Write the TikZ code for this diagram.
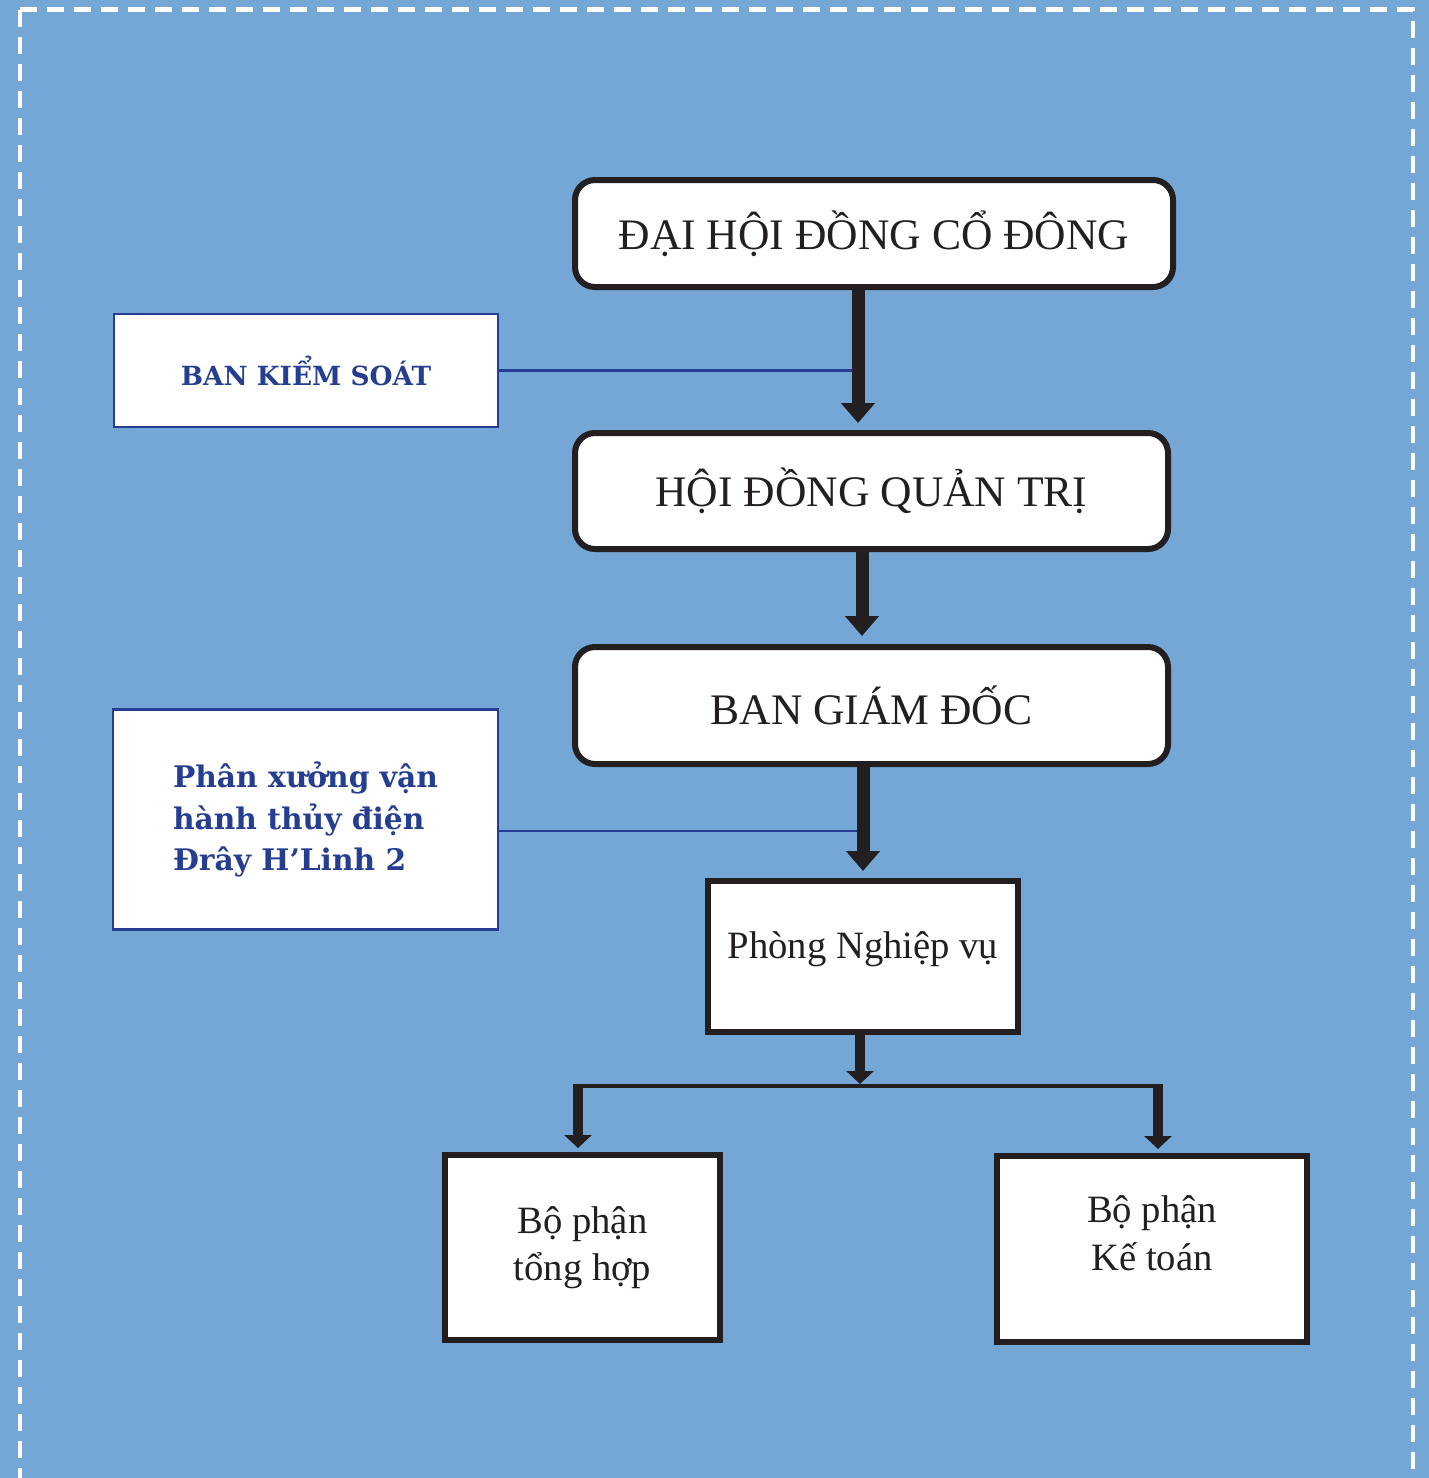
\documentclass[tikz,border=0pt]{standalone}
\usepackage{fontspec}
\setmainfont{Liberation Serif}
\newfontfamily\slabfont{DejaVu Serif}
\usetikzlibrary{arrows.meta,calc}
\definecolor{bgblue}{RGB}{116,167,214}
\definecolor{inkblack}{RGB}{35,31,32}
\definecolor{navy}{RGB}{37,62,146}

\begin{document}
\begin{tikzpicture}[board/.style={draw=inkblack, line width=0.06cm, rounded corners=0.2cm,
                    fill=white, text=inkblack, font=\fontsize{12.4}{14}\selectfont},
                    unit/.style={draw=inkblack, line width=0.06cm, fill=white, text=inkblack,
                    align=center, font=\fontsize{11}{13.4}\selectfont},
                    side/.style={draw=navy, line width=0.023cm, fill=white, text=navy,
                    font=\slabfont\bfseries\fontsize{8.45}{11.7}\selectfont},
                    flow/.style={draw=inkblack, line width=0.13cm,
                    -{Triangle[width=0.33cm,length=0.2cm]}},
                    branch/.style={draw=inkblack, line width=0.1cm,
                    -{Triangle[width=0.27cm,length=0.13cm]}},
                    bar/.style={draw=inkblack, line width=0.04cm},
                    tie/.style={draw=navy, line width=0.027cm}]
\useasboundingbox (0,0) rectangle (14.29,-14.78);
\fill[bgblue] (0,0) rectangle (14.29,-14.78);
\draw[white, line width=0.045cm, dash pattern=on 0.17cm off 0.1cm]
  (0.20,-0.095) -- (14.13,-0.095) -- (14.13,-15.2);
\draw[white, line width=0.045cm, dash pattern=on 0.17cm off 0.1cm]
  (0.20,-0.095) -- (0.20,-15.2);

\node[board, minimum width=5.98cm, minimum height=1.07cm] (dh) at (8.74,-2.335) {ĐẠI HỘI ĐỒNG CỔ ĐÔNG};
\node[board, minimum width=5.93cm, minimum height=1.16cm] (hd) at (8.715,-4.91) {HỘI ĐỒNG QUẢN TRỊ};
\node[board, minimum width=5.93cm, minimum height=1.17cm] (bgd) at (8.715,-7.055) {BAN GIÁM ĐỐC};
\node[side, minimum width=3.84cm, minimum height=1.13cm, font=\slabfont\bfseries\fontsize{7.5}{9}\selectfont]
  (bks) at (3.06,-3.705) {BAN KIỂM SOÁT};
\node[side, minimum width=3.85cm, minimum height=2.2cm, align=left] (pxv) at (3.055,-8.195)
  {Phân xưởng vận\\hành thủy điện\\Đrây H’Linh 2};
\node[unit, minimum width=3.10cm, minimum height=1.51cm, text depth=0.22cm] (pnv) at (8.63,-9.565) {Phòng Nghiệp vụ};
\node[unit, minimum width=2.75cm, minimum height=1.85cm] (bth) at (5.825,-12.475) {Bộ phận\\tổng hợp};
\node[unit, minimum width=3.10cm, minimum height=1.86cm, text depth=0.32cm] (bkt) at (11.52,-12.49) {Bộ phận\\Kế toán};

\coordinate (s1) at ($(dh.south)+(-0.16,0)$);
\coordinate (s2) at ($(hd.south)+(-0.095,0)$);
\coordinate (s3) at ($(bgd.south)+(-0.085,0)$);
\coordinate (s4) at ($(pnv.south)+(-0.03,0)$);
\coordinate (fork) at (8.60,-10.86);
\coordinate (lfork) at ($(bth.north |- fork)+(-0.045,0)$);
\coordinate (rfork) at ($(bkt.north |- fork)+(0.06,0)$);

\draw[tie] (bks.east) -- (bks.east -| s1);
\draw[tie] ([yshift=-0.115cm]pxv.east) -- ([yshift=-0.115cm]pxv.east -| s3);
\draw[flow, shorten >=0.07cm] (s1) -- (s1 |- hd.north);
\draw[flow, shorten >=0.08cm] (s2) -- (s2 |- bgd.north);
\draw[flow, shorten >=0.07cm] (s3) -- (s3 |- pnv.north);
\draw[branch] (s4) -- ([yshift=0.02cm]s4 |- fork);
\draw[bar] (lfork) -- (rfork);
\draw[branch, shorten >=0.04cm] ([yshift=0.02cm]lfork) -- (lfork |- bth.north);
\draw[branch, shorten >=0.04cm] ([yshift=0.02cm]rfork) -- (rfork |- bkt.north);
\end{tikzpicture}
\end{document}
